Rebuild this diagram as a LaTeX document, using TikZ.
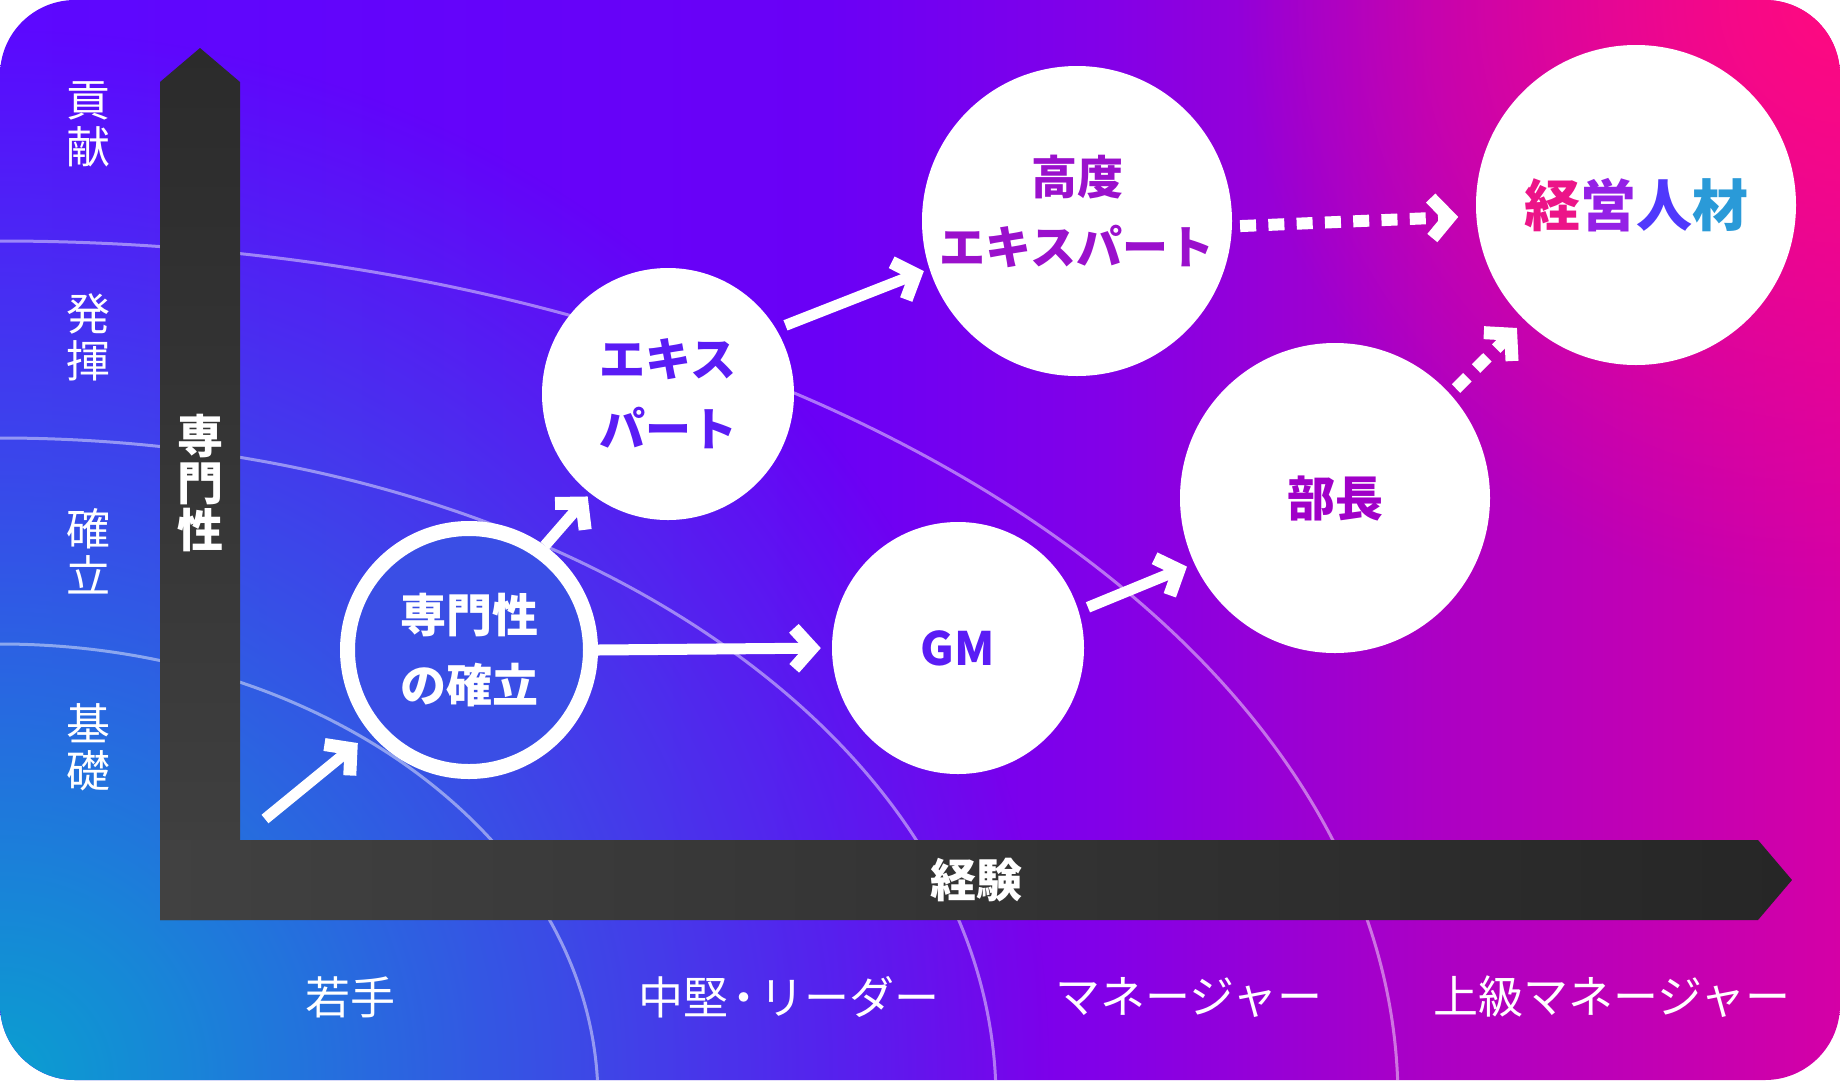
\documentclass[tikz,border=0pt]{standalone}
\usepackage{fontspec}
\setmainfont{Noto Sans CJK JP}
\usetikzlibrary{arrows.meta,fadings}

\definecolor{bgviolet}{HTML}{5C08FF}
\definecolor{bgmid}{HTML}{6A00F6}
\definecolor{bgpurple}{HTML}{8200E8}
\definecolor{bgplum}{HTML}{AC00C4}
\definecolor{bgmagenta}{HTML}{D400A6}
\definecolor{bgcyan}{HTML}{0AA0D0}
\definecolor{bgpink}{HTML}{FF0A80}
\definecolor{axtop}{HTML}{2B2B2B}
\definecolor{axbot}{HTML}{414141}
\definecolor{axend}{HTML}{262626}
\definecolor{estfill}{HTML}{3A4EE5}
\definecolor{expviolet}{HTML}{5A1CF5}
\definecolor{kodopurple}{HTML}{9A10CC}
\definecolor{buchopurple}{HTML}{A000C8}
\definecolor{kA}{HTML}{EC1488}
\definecolor{kB}{HTML}{9420E6}
\definecolor{kC}{HTML}{5038FC}
\definecolor{kD}{HTML}{2A9AD8}

\pgfdeclarehorizontalshading{bgshade}{100bp}{color(0bp)=(bgviolet); color(25bp)=(bgviolet); color(47.5bp)=(bgmid); color(55bp)=(bgpurple); color(64bp)=(bgplum); color(75bp)=(bgmagenta); color(100bp)=(bgmagenta)}
\tikzfading[name=glow, inner color=transparent!0, outer color=transparent!100]

\begin{document}
\begin{tikzpicture}[
  x=1pt, y=-1pt,
  orbit/.style={white, opacity=0.45, line width=3pt},
  circ/.style={circle, fill=white, inner sep=0pt, minimum size=#1, align=center},
  big/.style={font=\fontsize{46}{70}\selectfont\bfseries},
  axlab/.style={white, align=center, font=\fontsize{46}{47}\selectfont\bfseries},
  side/.style={white, align=center, font=\fontsize{44}{47}\selectfont},
  stage/.style={white, font=\fontsize{45}{54}\selectfont},
  move/.style={white, line width=11pt, -{Straight Barb[length=18pt, width=40pt, line width'=13pt]}},
  jump/.style={move, line width=12pt, dash pattern=on 16pt off 12.3pt},
]
  \useasboundingbox (0,0) rectangle (1840,1080);

  % Background
  \begin{scope}
    \clip[rounded corners=75pt] (0,0) rectangle (1840,1080);
    \shade[shading=bgshade] (0,0) rectangle (1840,1080);
    \fill[bgcyan, path fading=glow] (0,1080) circle (1050);
    \fill[bgpink, path fading=glow] (1840,0) circle (600);

    % Level curves
    \draw[orbit] (0,1100) ellipse [x radius=598, y radius=456];
    \draw[orbit] (0,1100) ellipse [x radius=996, y radius=662];
    \draw[orbit] (0,1100) ellipse [x radius=1398, y radius=859];
  \end{scope}

  % Axes
  \shade[top color=axtop, bottom color=axbot]
    (160,920) -- (160,82) -- (200,48) -- (240,82) -- (240,920) -- cycle;
  \shade[left color=axbot, right color=axend]
    (160,840) -- (1758,840) -- (1792,880) -- (1758,920) -- (160,920) -- cycle;
  \node[axlab] (vlab) at (200,483) {専\\門\\性};
  \node[axlab] (hlab) at (976,880) {経験};

  % Side levels
  \node[side] (s1) at (88,124) {貢\\献};
  \node[side] (s2) at (88,337) {発\\揮};
  \node[side] (s3) at (88,551) {確\\立};
  \node[side] (s4) at (88,747) {基\\礎};

  % Stages
  \node[stage] (g1) at (350,997) {若手};
  \node[stage] (g2) at (789,997) {中堅\kern-7pt・\kern-7pt リーダー};
  \node[stage] (g3) at (1189,997) {マネージャー};
  \node[stage] (g4) at (1612,997) {上級マネージャー};

  % Career steps
  \node[circ=243pt, draw=white, line width=15pt, fill=estfill, text=white, big]
    (est) at (469,650) {専門性\\の確立};
  \node[circ=252pt, text=expviolet, big] (exp) at (668,394) {エキス\\パート};
  \node[circ=252pt, text=expviolet, big] (gm) at (958,648) {GM};
  \node[circ=310pt, text=kodopurple, big, text depth=22pt]
    (kodo) at (1077,221) {高度\\エキスパート};
  \node[circ=310pt, text=buchopurple, font=\fontsize{48}{70}\selectfont\bfseries]
    (bucho) at (1335,498) {部長};
  \node[circ=320pt, font=\fontsize{56}{70}\selectfont\bfseries]
    (keiei) at (1636,205) {\textcolor{kA}{経}\textcolor{kB}{営}\textcolor{kC}{人}\textcolor{kD}{材}};

  % Paths
  \coordinate (start) at (265,819);
  \draw[move, shorten >=16pt] (start) -- (est.220);
  \draw[move, shorten >=4pt] (est.54) -- (exp.232);
  \draw[move, shorten >=11pt] (est.0) -- (gm.180);
  \draw[move, shorten <=10pt, shorten >=8pt] (gm.17) -- (bucho.205);
  \draw[move, shorten <=10pt, shorten >=6pt] (exp.31) -- (kodo.198);
  \draw[jump, shorten <=8pt, shorten >=18pt] (kodo.-2) -- (keiei.184);
  \draw[jump, shorten <=8pt, shorten >=11pt] (bucho.42) -- (keiei.226);

\end{tikzpicture}
\end{document}
